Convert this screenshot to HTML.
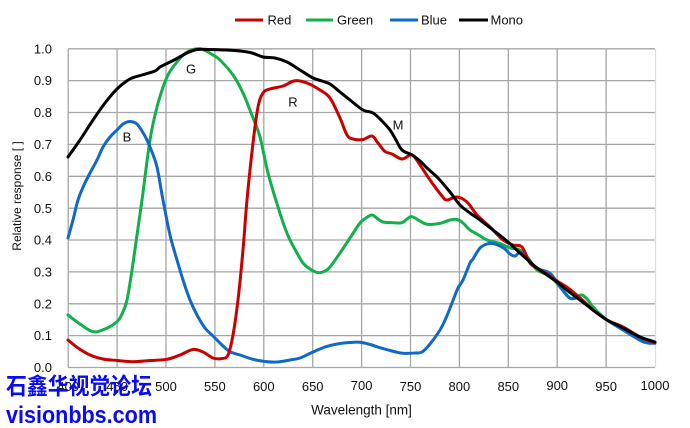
<!DOCTYPE html>
<html>
<head>
<meta charset="utf-8">
<style>
  html, body { margin:0; padding:0; background:#fff; }
  body { width:690px; height:428px; overflow:hidden; }
  svg { display:block; }
  .t { font-family:"Liberation Sans", Arial, sans-serif; font-size:13px; fill:#111; }
</style>
</head>
<body>
<svg id="chart" width="690" height="428" viewBox="0 0 690 428" xmlns="http://www.w3.org/2000/svg">
  <rect x="0" y="0" width="690" height="428" fill="#fff"/>

  <!-- grid -->
  <g stroke="#a6a6a6" stroke-width="1.3" fill="none">
    <line x1="68.2" y1="48.8" x2="655" y2="48.8"/>
    <line x1="68.2" y1="80.6" x2="655" y2="80.6"/>
    <line x1="68.2" y1="112.5" x2="655" y2="112.5"/>
    <line x1="68.2" y1="144.4" x2="655" y2="144.4"/>
    <line x1="68.2" y1="176.3" x2="655" y2="176.3"/>
    <line x1="68.2" y1="208.2" x2="655" y2="208.2"/>
    <line x1="68.2" y1="240.0" x2="655" y2="240.0"/>
    <line x1="68.2" y1="271.9" x2="655" y2="271.9"/>
    <line x1="68.2" y1="303.8" x2="655" y2="303.8"/>
    <line x1="68.2" y1="335.6" x2="655" y2="335.6"/>
    <line x1="68.2" y1="367.5" x2="655" y2="367.5"/>
    <line x1="68.2" y1="48.8" x2="68.2" y2="367.5"/>
    <line x1="117.1" y1="48.8" x2="117.1" y2="367.5"/>
    <line x1="166.0" y1="48.8" x2="166.0" y2="367.5"/>
    <line x1="214.9" y1="48.8" x2="214.9" y2="367.5"/>
    <line x1="263.8" y1="48.8" x2="263.8" y2="367.5"/>
    <line x1="312.7" y1="48.8" x2="312.7" y2="367.5"/>
    <line x1="361.6" y1="48.8" x2="361.6" y2="367.5"/>
    <line x1="410.5" y1="48.8" x2="410.5" y2="367.5"/>
    <line x1="459.4" y1="48.8" x2="459.4" y2="367.5"/>
    <line x1="508.3" y1="48.8" x2="508.3" y2="367.5"/>
    <line x1="557.2" y1="48.8" x2="557.2" y2="367.5"/>
    <line x1="606.1" y1="48.8" x2="606.1" y2="367.5"/>
  </g>
  <line x1="655.5" y1="48.8" x2="655.5" y2="367.5" stroke="#dcdcdc" stroke-width="1.2"/>

  <!-- curves -->
  <g id="curves" fill="none" stroke-width="3" stroke-linejoin="round" stroke-linecap="round">
    <polyline stroke="#12b04a" points="68,315 80,324 93,331.7 105,329 117,321.7 122,314 127,300 132,270 137,235 142,200 150,140 157,107 167,77 177,62 187,52 200,48.8 213,55 220,60 233,75 243,93 253,118 260,137 268,173 278,207 285,228 290,240 297,253 303,263 310,269 318,272.7 325,271 330,267 340,253 350,238 360,223 366,218 372,215 378,219 383,222 393,222.7 402,222.7 407,219 412,216.7 420,221 427,224.3 440,223.3 450,220 457,219.5 463,223 470,230 477,234 487,240 500,243.5 510,248 520,250 528,258 537,270 550,276 560,287 570,298 576,297 582,295 588,300 593,307 607,320 623,327 640,338 655,343"/>
    <polyline stroke="#1068c8" points="68,238 73,220 78,200 84,185 90,173 97,160 103,147 110,137 117,130 123,124 128,121.7 133,122 137,124 142,131 147,140 152,152 157,167 163,200 170,235 177,260 184,283 190,300 197,315 205,328 213,336 222,345 230,351.7 240,355 253,359.3 265,361.5 277,362 290,360 300,358 313,352 325,347 337,344 350,342.5 360,342.3 370,344.5 380,347.7 392,351 403,353.3 415,353 422,352 430,344 440,330 446,318 452,303 458,288 463,280 470,263 473,259 480,248 487,244 493,243.5 500,246 505,249 510,254 515,256 520,252.5 527,258 537,268.3 550,273.3 560,286.7 570,298.3 580,298.3 593,310 607,320 623,330 643,341.7 655,343.3"/>
    <polyline stroke="#c80000" points="68,340 78,348 90,355 103,359 117,360.5 133,361.7 150,360.5 167,359.3 180,355 193,349.5 203,352 213,358 222,358.5 228,355 233,335 238,300 243,250 247,200 253,143 258,107 263,93 270,89 283,86 295,80.7 307,83 320,90 330,98 340,118 347,135 353,139 363,139.5 372,136 378,143 385,151.5 392,154 402,159 412,155 420,165 430,180 442,196 447,200 457,197 467,202 477,215 490,227 503,240 513,245 522,247 530,263 537,268 547,274 557,281 568,288 580,298 593,310 607,320 623,327 640,337 655,343"/>
    <polyline stroke="#000" points="68,157 80,140 93,120 105,103 117,89 130,79 142,75 155,71 160,67 166,64 176,59 187,53 197,49.5 210,49.5 225,50 240,51 252,53 263,57 275,58 287,62 300,70 313,78 322,81 330,84 340,92 350,100 363,110 373,113 382,121 390,130 396,140 402,150 412,155 420,161 427,168 438,178 450,192 460,205 470,213 480,220 493,230 508,242 520,253 530,262 537,268 547,275 557,282 568,291 580,300 593,310 607,320 617,325 627,330 640,337 655,342"/>
  </g>

  <!-- in-plot labels -->
  <text class="t" x="191" y="73.6" text-anchor="middle">G</text>
  <text class="t" x="127" y="141.6" text-anchor="middle">B</text>
  <text class="t" x="293" y="106.6" text-anchor="middle">R</text>
  <text class="t" x="398" y="129.6" text-anchor="middle">M</text>

  <!-- legend -->
  <g stroke-width="3">
    <line x1="235" y1="20" x2="263" y2="20" stroke="#c80000"/>
    <line x1="306" y1="20" x2="333" y2="20" stroke="#12b04a"/>
    <line x1="390" y1="20" x2="418" y2="20" stroke="#1068c8"/>
    <line x1="459" y1="20" x2="488" y2="20" stroke="#000"/>
  </g>
  <text class="t" x="267.5" y="24.6">Red</text>
  <text class="t" x="337" y="24.6">Green</text>
  <text class="t" x="421" y="24.6">Blue</text>
  <text class="t" x="490.5" y="24.6">Mono</text>

  <!-- y tick labels -->
  <g text-anchor="end">
    <text class="t" x="52" y="53.4">1.0</text>
    <text class="t" x="52" y="85.2">0.9</text>
    <text class="t" x="52" y="117.1">0.8</text>
    <text class="t" x="52" y="149.0">0.7</text>
    <text class="t" x="52" y="180.9">0.6</text>
    <text class="t" x="52" y="212.8">0.5</text>
    <text class="t" x="52" y="244.6">0.4</text>
    <text class="t" x="52" y="276.5">0.3</text>
    <text class="t" x="52" y="308.4">0.2</text>
    <text class="t" x="52" y="340.2">0.1</text>
    <text class="t" x="52" y="372.1">0.0</text>
  </g>

  <!-- x tick labels -->
  <g text-anchor="middle">
    <text class="t" x="68.2" y="391">400</text>
    <text class="t" x="117.1" y="391">450</text>
    <text class="t" x="166.0" y="391">500</text>
    <text class="t" x="214.9" y="391">550</text>
    <text class="t" x="263.8" y="391">600</text>
    <text class="t" x="312.7" y="391">650</text>
    <text class="t" x="361.6" y="390">700</text>
    <text class="t" x="410.5" y="391">750</text>
    <text class="t" x="459.4" y="391">800</text>
    <text class="t" x="508.3" y="391">850</text>
    <text class="t" x="557.2" y="390">900</text>
    <text class="t" x="606.1" y="391">950</text>
    <text class="t" x="655" y="390">1000</text>
  </g>

  <!-- axis titles -->
  <text class="t" x="361.5" y="414.5" text-anchor="middle" style="font-size:13.5px">Wavelength [nm]</text>
  <text class="t" transform="translate(21,196) rotate(-90)" text-anchor="middle" style="font-size:12px">Relative response [ ]</text>

  <!-- watermark -->
  <text x="6" y="394" textLength="146" lengthAdjust="spacingAndGlyphs"
        style="font-family:'Liberation Sans','Noto Sans CJK SC','WenQuanYi Zen Hei',sans-serif;font-size:23px;font-weight:bold;fill:#0a0af5">石鑫华视觉论坛</text>
  <text x="6" y="423" textLength="151" lengthAdjust="spacingAndGlyphs"
        style="font-family:'Liberation Sans',Arial,sans-serif;font-size:24px;font-weight:bold;fill:#0a0af5">visionbbs.com</text>
</svg>
<script>
(function(){
  try {
    var NS = "http://www.w3.org/2000/svg";
    var g = document.getElementById("curves");
    var pls = Array.prototype.slice.call(g.getElementsByTagName("polyline"));
    pls.forEach(function(pl){
      var nums = pl.getAttribute("points").trim().split(/[\s,]+/).map(Number);
      var p = [];
      for (var i = 0; i + 1 < nums.length; i += 2) p.push([nums[i], nums[i+1]]);
      if (p.length < 3) return;
      var d = "M" + p[0][0] + "," + p[0][1];
      for (var i = 0; i < p.length - 1; i++) {
        var p0 = p[i-1] || p[i], p1 = p[i], p2 = p[i+1], p3 = p[i+2] || p[i+1];
        var t = 1/6;
        var c1x = p1[0] + (p2[0]-p0[0])*t, c1y = p1[1] + (p2[1]-p0[1])*t;
        var c2x = p2[0] - (p3[0]-p1[0])*t, c2y = p2[1] - (p3[1]-p1[1])*t;
        d += " C" + c1x.toFixed(2) + "," + c1y.toFixed(2) + " " + c2x.toFixed(2) + "," + c2y.toFixed(2) + " " + p2[0] + "," + p2[1];
      }
      var path = document.createElementNS(NS, "path");
      path.setAttribute("d", d);
      path.setAttribute("stroke", pl.getAttribute("stroke"));
      g.insertBefore(path, pl);
      g.removeChild(pl);
    });
  } catch (e) {}
})();
</script>
</body>
</html>
